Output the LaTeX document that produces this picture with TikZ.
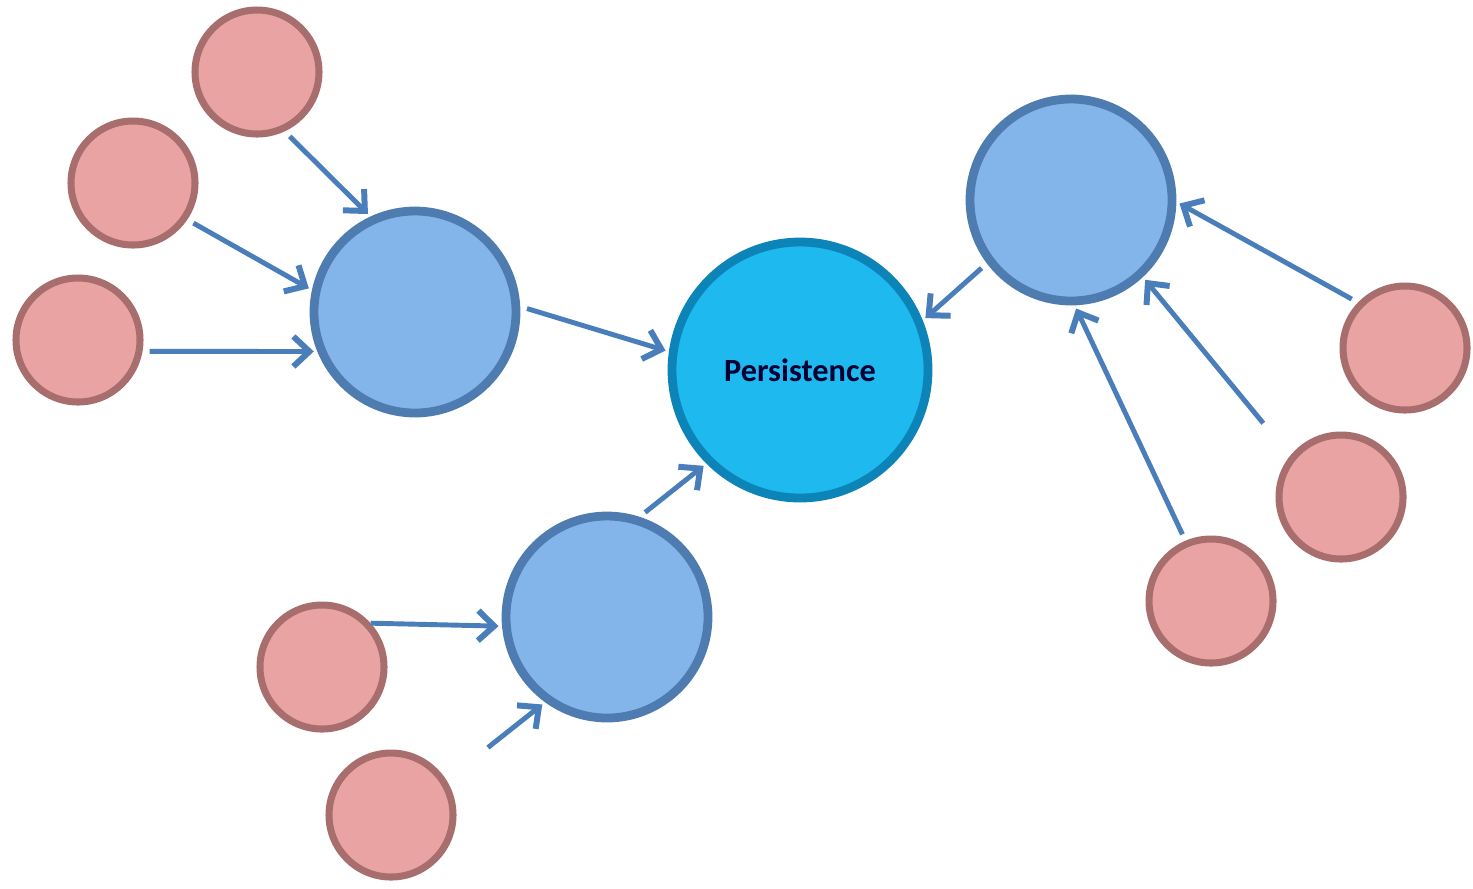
\documentclass[tikz,border=0pt]{standalone}
\usepackage{fontspec}
\newfontfamily\labelfont{Carlito}
\usetikzlibrary{arrows.meta}
\definecolor{pinkfill}{HTML}{E9A3A3}
\definecolor{pinkedge}{HTML}{A86E6E}
\definecolor{bluefill}{HTML}{83B4EA}
\definecolor{blueedge}{HTML}{4E7CB0}
\definecolor{cyanfill}{HTML}{1DB9EF}
\definecolor{cyanedge}{HTML}{0C84B8}
\definecolor{arrowblue}{HTML}{4A7EBB}
\tikzset{
  leaf/.style={circle,fill=pinkfill,draw=pinkedge,line width=2pt,minimum size=1.24cm,inner sep=0pt},
  hub/.style={circle,fill=bluefill,draw=blueedge,line width=2.5pt,minimum size=2.02cm,inner sep=0pt},
  core/.style={circle,fill=cyanfill,draw=cyanedge,line width=2.5pt,minimum size=2.56cm,inner sep=0pt,
    font=\labelfont\bfseries\fontsize{9.2}{11}\selectfont,text=black!80!blue},
  link/.style={draw=arrowblue,line width=1.4pt,-{Straight Barb[length=1.6mm,width=3mm,line width=1.7pt]},shorten <=2pt,shorten >=1pt}
}
\begin{document}
\begin{tikzpicture}
\useasboundingbox (0,0) rectangle (14.73,-8.88);
\node[core] (persist) at (8.00,-3.70) {Persistence};
\node[hub] (hubL) at (4.15,-3.12) {};
\node[hub] (hubB) at (6.07,-6.17) {};
\node[hub] (hubR) at (10.71,-2.00) {};
\node[leaf] (l1) at (2.57,-0.72) {};
\node[leaf] (l2) at (1.33,-1.83) {};
\node[leaf] (l3) at (0.78,-3.40) {};
\node[leaf] (b1) at (3.22,-6.67) {};
\node[leaf] (b2) at (3.91,-8.15) {};
\node[leaf] (r1) at (14.05,-3.48) {};
\node[leaf] (r2) at (13.41,-4.97) {};
\node[leaf] (r3) at (12.11,-6.01) {};
% arrows
\draw[link] (l1.-65) -- (hubL.115);
\draw[link] (l2.-34) -- (hubL.168);
\draw[link] (l3.-10) -- (hubL.-158);
\draw[link] (hubL.3) -- (persist.172);
\draw[link] (hubB.72) -- (persist.-135);
\draw[link] (hubR.-143) -- (persist.22);
\draw[link] (r1.136) -- (hubR.-1);
\draw[link,shorten <=12pt] (r2.141) -- (hubR.-47);
\draw[link] (r3.113) -- (hubR.-88);
\draw[link,shorten <=0pt] (b1.42) -- (hubB.185);
\draw[link,shorten <=15pt] (b2.32) -- (hubB.-126);
\end{tikzpicture}
\end{document}
